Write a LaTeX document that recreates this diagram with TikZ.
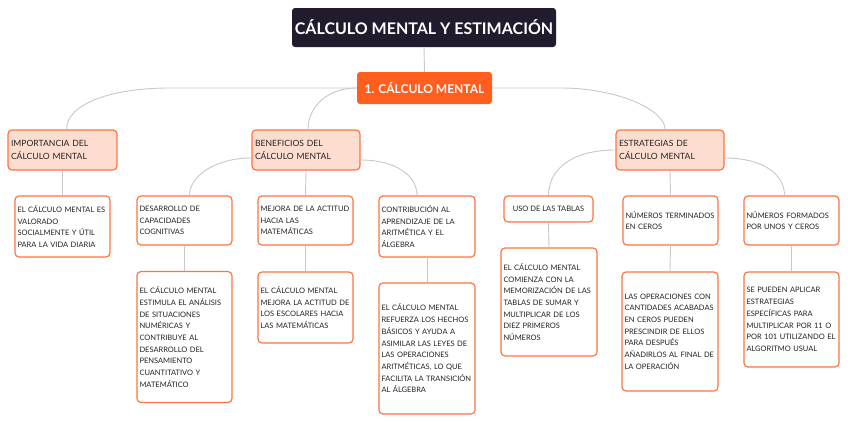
\documentclass[tikz,border=0pt]{standalone}
\usepackage{fontspec}
\setmainfont{Lato}
\definecolor{titlec}{HTML}{221B2D}
\definecolor{orangec}{HTML}{FF5E1F}
\definecolor{borderc}{HTML}{FF7440}
\definecolor{peachc}{HTML}{FEDDD1}
\definecolor{linec}{HTML}{C8C8C8}
\definecolor{textc}{HTML}{222222}
\begin{document}
\begin{tikzpicture}[x=1pt,y=-1pt,
  conn/.style={draw=linec, line width=0.9pt},
  titlebox/.style={fill=titlec, rounded corners=3pt, text=white, inner sep=0pt,
    font=\bfseries\fontsize{16}{18}\selectfont},
  mainbox/.style={fill=orangec, rounded corners=3pt, text=white, inner sep=0pt,
    font=\bfseries\fontsize{12}{14}\selectfont},
  lvltwo/.style={draw=borderc, fill=peachc, line width=1.2pt, rounded corners=4pt,
    align=left, text=textc, inner xsep=2pt, inner ysep=1pt,
    font=\fontsize{8.6}{12.3}\selectfont},
  leaf/.style={draw=borderc, fill=white, line width=1.2pt, rounded corners=4pt,
    align=left, text=textc, inner xsep=2pt, inner ysep=1pt,
    font=\fontsize{7.5}{11.7}\selectfont}
]
\useasboundingbox[fill=white] (0,0) rectangle (848,423);

% title and main
\node[titlebox, minimum width=264pt, minimum height=39pt] (title) at (424,27.5) {CÁLCULO MENTAL Y ESTIMACIÓN};
\node[mainbox, minimum width=135pt, minimum height=32pt] (main) at (424.5,88) {1. CÁLCULO MENTAL};

% level 2
\node[lvltwo, minimum width=109pt, minimum height=40pt, text width=103pt] (imp) at (62.5,150) {IMPORTANCIA DEL\\CÁLCULO MENTAL};
\node[lvltwo, minimum width=108pt, minimum height=40pt, text width=102pt] (ben) at (306,150) {BENEFICIOS DEL\\CÁLCULO MENTAL};
\node[lvltwo, minimum width=108pt, minimum height=40pt, text width=102pt] (est) at (670,150) {ESTRATEGIAS DE\\CÁLCULO MENTAL};

% level 3
\node[leaf, minimum width=95pt, minimum height=61pt, text width=90pt] (impd) at (62.5,226.5) {EL CÁLCULO MENTAL ES\\VALORADO\\SOCIALMENTE Y ÚTIL\\PARA LA VIDA DIARIA};
\node[leaf, minimum width=95pt, minimum height=49pt, text width=90pt] (des) at (184.5,220.5) {DESARROLLO DE\\CAPACIDADES\\COGNITIVAS};
\node[leaf, minimum width=95pt, minimum height=49pt, text width=90pt] (mej) at (305.5,220.5) {MEJORA DE LA ACTITUD\\HACIA LAS\\MATEMÁTICAS};
\node[leaf, minimum width=96pt, minimum height=61pt, text width=91pt] (con) at (427,226.5) {CONTRIBUCIÓN AL\\APRENDIZAJE DE LA\\ARITMÉTICA Y EL\\ÁLGEBRA};
\node[leaf, minimum width=89pt, minimum height=26pt] (uso) at (548.5,209) {USO DE LAS TABLAS};
\node[leaf, minimum width=95pt, minimum height=49pt, text width=90pt] (nt) at (670.5,220.5) {NÚMEROS TERMINADOS\\EN CEROS};
\node[leaf, minimum width=95pt, minimum height=49pt, text width=90pt] (nf) at (791.5,220.5) {NÚMEROS FORMADOS\\POR UNOS Y CEROS};

% level 4
\node[leaf, minimum width=95pt, minimum height=131pt, text width=90pt] (desd) at (184.5,337) {EL CÁLCULO MENTAL\\ESTIMULA EL ANÁLISIS\\DE SITUACIONES\\NUMÉRICAS Y\\CONTRIBUYE AL\\DESARROLLO DEL\\PENSAMIENTO\\CUANTITATIVO Y\\MATEMÁTICO};
\node[leaf, minimum width=95pt, minimum height=71pt, text width=90pt] (mejd) at (305.5,307.5) {EL CÁLCULO MENTAL\\MEJORA LA ACTITUD DE\\LOS ESCOLARES HACIA\\LAS MATEMÁTICAS};
\node[leaf, minimum width=96pt, minimum height=131pt, text width=91pt] (cond) at (427,348.5) {EL CÁLCULO MENTAL\\REFUERZA LOS HECHOS\\BÁSICOS Y AYUDA A\\ASIMILAR LAS LEYES DE\\LAS OPERACIONES\\ARITMÉTICAS, LO QUE\\FACILITA LA TRANSICIÓN\\AL ÁLGEBRA};
\node[leaf, minimum width=96pt, minimum height=108pt, text width=91pt] (usod) at (549,302) {EL CÁLCULO MENTAL\\COMIENZA CON LA\\MEMORIZACIÓN DE LAS\\TABLAS DE SUMAR Y\\MULTIPLICAR DE LOS\\DIEZ PRIMEROS\\NÚMEROS};
\node[leaf, minimum width=96pt, minimum height=119pt, text width=91pt] (ntd) at (670,331.5) {LAS OPERACIONES CON\\CANTIDADES ACABADAS\\EN CEROS PUEDEN\\PRESCINDIR DE ELLOS\\PARA DESPUÉS\\AÑADIRLOS AL FINAL DE\\LA OPERACIÓN};
\node[leaf, minimum width=95pt, minimum height=95pt, text width=90pt] (nfd) at (791.5,319.5) {SE PUEDEN APLICAR\\ESTRATEGIAS\\ESPECÍFICAS PARA\\MULTIPLICAR POR 11 O\\POR 101 UTILIZANDO EL\\ALGORITMO USUAL};

% connectors
\begin{scope}[on background layer/.style={}]
\draw[conn] (title.south) -- (main.north);
\draw[conn] (main.west) -- ++(-187,0) .. controls +(-60,0) and +(0,-25) .. ([xshift=4pt]imp.north);
\draw[conn] (main.west) .. controls +(-30,0) and +(0,-22) .. ([xshift=2pt]ben.north);
\draw[conn] (main.east) -- ++(69,0) .. controls +(55,0) and +(0,-20) .. ([xshift=-5pt]est.north);

\draw[conn] (imp.south) -- (impd.north);
\draw[conn] ([yshift=-8pt]ben.west) .. controls +(-35,0) and +(0,-20) .. ([xshift=5pt]des.north);
\draw[conn] (ben.south) -- (mej.north);
\draw[conn] ([yshift=-10pt]ben.east) .. controls +(35,0) and +(0,-20) .. ([xshift=-10pt]con.north);
\draw[conn] (est.west) .. controls +(-45,0) and +(0,-25) .. (uso.north);
\draw[conn] (est.south) -- (nt.north);
\draw[conn] ([yshift=-8pt]est.east) .. controls +(40,0) and +(0,-20) .. ([xshift=-7pt]nf.north);

\draw[conn] (des.south) -- (desd.north);
\draw[conn] (mej.south) -- (mejd.north);
\draw[conn] (con.south) -- (cond.north);
\draw[conn] (uso.south) -- (usod.north);
\draw[conn] (nt.south) -- (ntd.north);
\draw[conn] (nf.south) -- (nfd.north);
\end{scope}
\end{tikzpicture}
\end{document}
